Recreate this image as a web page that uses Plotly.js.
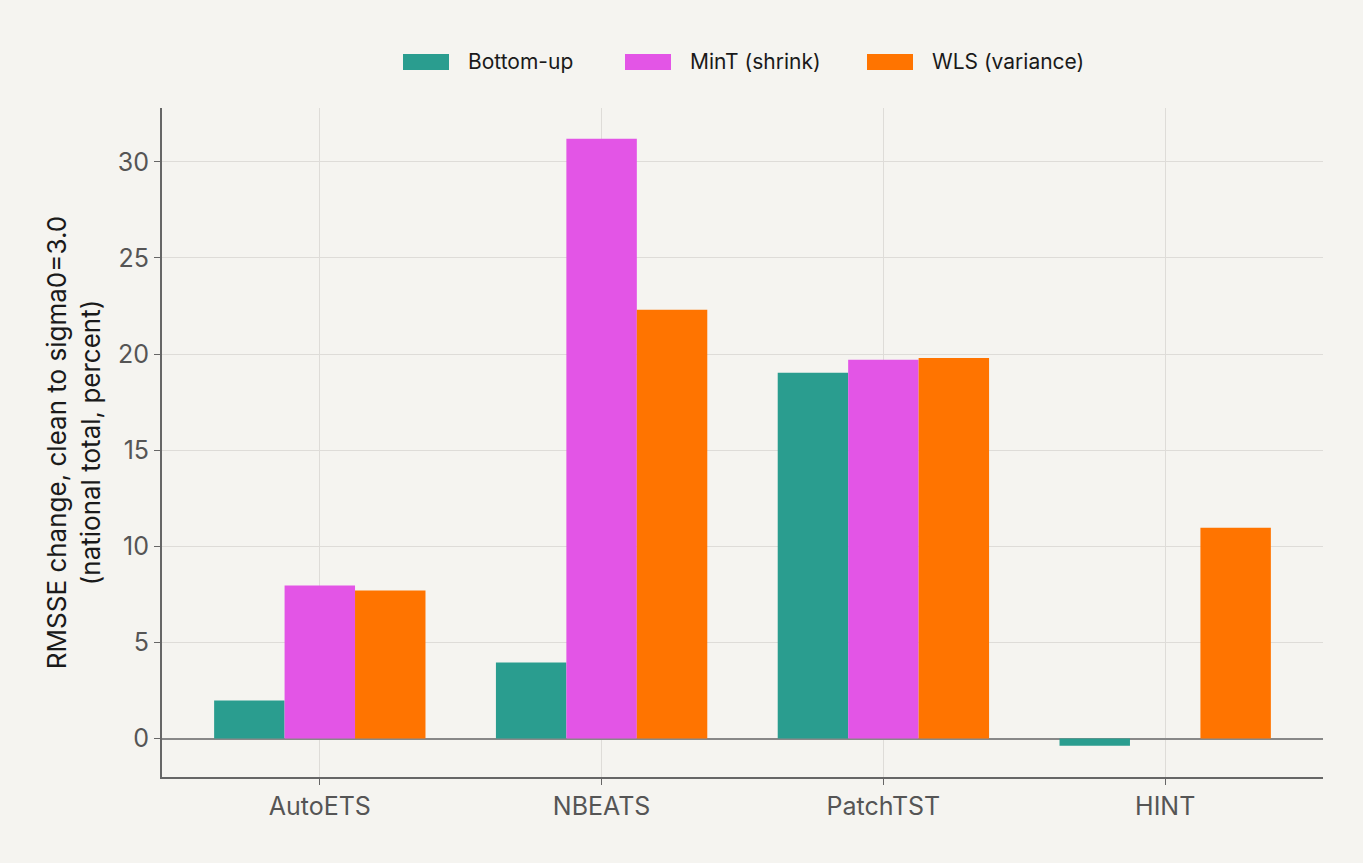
<!DOCTYPE html>
<html>
<head>
<meta charset="utf-8">
<script src="https://cdn.plot.ly/plotly-3.0.1.min.js"></script>
<style>
  html, body { margin: 0; padding: 0; background: #f5f4f0; }
  #chart { width: 1363px; height: 863px; }
</style>
</head>
<body>
<div id="chart"></div>
<script>
  // models on the x axis
  const models = ["AutoETS", "NBEATS", "PatchTST", "HINT"];

  // RMSSE change in percent, clean -> sigma0=3.0
  const bottomUp = [1.98, 3.95, 19.03, -0.38];
  const mintShrink = [7.96, 31.2, 19.7, 0.0];
  const wlsVariance = [7.7, 22.3, 19.8, 10.97];

  const seriesNames = ["Bottom-up", "MinT (shrink)", "WLS (variance)"];
  const colors = ["#2a9d8f", "#e355e6", "#ff7400"];

  const yTicks = [0, 5, 10, 15, 20, 25, 30];

  const fontFam = "Inter, Liberation Sans, Arial, sans-serif";

  // plot box in pixels, used to place the hand made legend above it
  const W = 1363, H = 863;
  const M = { l: 162, r: 40, t: 108, b: 86 };
  const plotW = W - M.l - M.r, plotH = H - M.t - M.b;
  const legendLeft = [403, 625, 867]; // left edge of each swatch (px)
  const swatchW = 46, swatchH = 16, legendMid = 62;

  var data = [bottomUp, mintShrink, wlsVariance].map(function (vals, i) {
    return {
      x: models,
      y: vals,
      type: "bar",
      name: seriesNames[i],
      marker: { color: colors[i] },
      showlegend: false
    };
  });

  var px = function (x) { return (x - M.l) / plotW; };
  var py = function (y) { return (H - M.b - y) / plotH; };

  var shapes = [], annotations = [];
  seriesNames.forEach(function (name, i) {
    shapes.push({
      type: "rect", xref: "paper", yref: "paper",
      x0: px(legendLeft[i]), x1: px(legendLeft[i] + swatchW),
      y0: py(legendMid + swatchH / 2), y1: py(legendMid - swatchH / 2),
      fillcolor: colors[i], line: { width: 0 }
    });
    annotations.push({
      xref: "paper", yref: "paper",
      x: px(legendLeft[i] + swatchW + 17), y: py(legendMid),
      xanchor: "left", yanchor: "middle",
      text: name, showarrow: false,
      font: { size: 21, color: "#1a1a1a" }
    });
  });

  var layout = {
    width: W,
    height: H,
    margin: M,
    paper_bgcolor: "#f5f4f0",
    plot_bgcolor: "#f5f4f0",
    barmode: "group",
    bargap: 0.25,
    bargroupgap: 0,
    font: { family: fontFam, size: 22, color: "#555" },
    showlegend: false,
    shapes: shapes,
    annotations: annotations,
    xaxis: {
      range: [-0.56, 3.56],
      showline: true,
      linecolor: "#666",
      linewidth: 2,
      ticks: "outside",
      ticklen: 6,
      tickcolor: "#666",
      showgrid: true,
      gridcolor: "#dedcd8",
      tickfont: { size: 25, color: "#555" }
    },
    yaxis: {
      range: [-2, 32.8],
      tickvals: yTicks,
      showline: true,
      linecolor: "#666",
      linewidth: 2,
      ticks: "outside",
      ticklen: 6,
      tickcolor: "#666",
      showgrid: true,
      gridcolor: "#dedcd8",
      zeroline: true,
      zerolinecolor: "#888",
      zerolinewidth: 2,
      tickfont: { size: 25, color: "#555" },
      title: {
        text: "RMSSE change, clean to sigma0=3.0<br>(national total, percent)",
        font: { size: 26, color: "#1a1a1a" },
        standoff: 10
      }
    }
  };

  Plotly.newPlot("chart", data, layout, { displayModeBar: false });
</script>
</body>
</html>
